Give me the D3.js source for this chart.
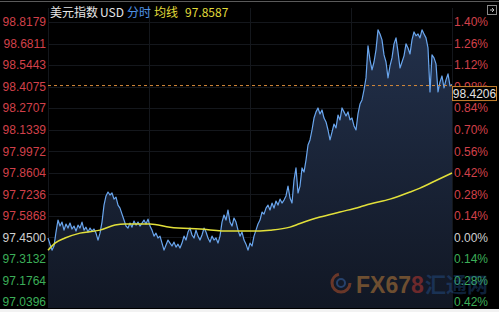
<!DOCTYPE html>
<html>
<head>
<meta charset="utf-8">
<script src="https://cdn.jsdelivr.net/npm/d3@7"></script>
<style>
  html, body { margin: 0; padding: 0; background: #000; }
  svg { display: block; }
</style>
</head>
<body>
<div id="chart"></div>
<script>
// price ticks (left) and percent ticks (right)
const priceTicks = [98.8179, 98.6811, 98.5443, 98.4075, 98.2707, 98.1339, 97.9972,
                    97.8604, 97.7236, 97.5868, 97.4500, 97.3132, 97.1764, 97.0396];
const pctTicks = ["1.40%", "1.26%", "1.12%", "0.98%", "0.84%", "0.70%", "0.56%",
                  "0.42%", "0.28%", "0.14%", "0.00%", "0.14%", "0.28%", "0.42%"];
const baseValue = 97.45;
const lastPrice = 98.4206;
const avgLast = 97.8587;

// minute prices (sampled), one per step
const prices = [
  97.446, 97.407, 97.369, 97.395, 97.484, 97.560, 97.522, 97.547, 97.496, 97.535,
  97.509, 97.541, 97.503, 97.522, 97.490, 97.528, 97.509, 97.547, 97.496, 97.515,
  97.484, 97.509, 97.490, 97.503, 97.477, 97.433, 97.477, 97.547, 97.655, 97.713,
  97.738, 97.719, 97.732, 97.693, 97.706, 97.655, 97.636, 97.598, 97.560, 97.522,
  97.509, 97.541, 97.515, 97.554, 97.528, 97.547, 97.522, 97.541, 97.560, 97.535,
  97.566, 97.522, 97.496, 97.458, 97.477, 97.446, 97.458, 97.414, 97.369, 97.401,
  97.433, 97.414, 97.395, 97.420, 97.388, 97.407, 97.382, 97.414, 97.458, 97.433,
  97.484, 97.509, 97.465, 97.446, 97.496, 97.458, 97.433, 97.465, 97.509, 97.484,
  97.446, 97.420, 97.458, 97.433, 97.446, 97.414, 97.458, 97.547, 97.592, 97.560,
  97.624, 97.547, 97.522, 97.573, 97.547, 97.496, 97.458, 97.484, 97.433, 97.407,
  97.369, 97.414, 97.395, 97.458, 97.496, 97.535, 97.560, 97.611, 97.598, 97.636,
  97.655, 97.624, 97.668, 97.636, 97.681, 97.655, 97.693, 97.668, 97.687, 97.713,
  97.776, 97.700, 97.668, 97.814, 97.891, 97.732, 97.776, 97.891, 97.865, 97.941,
  98.037, 98.069, 98.132, 98.208, 98.247, 98.272, 98.234, 98.259, 98.208, 98.183,
  98.132, 98.069, 98.119, 98.170, 98.145, 98.227, 98.196, 98.272, 98.247, 98.221,
  98.247, 98.196, 98.208, 98.158, 98.132, 98.234, 98.297, 98.323, 98.386, 98.463,
  98.666, 98.577, 98.514, 98.564, 98.641, 98.768, 98.742, 98.704, 98.609, 98.564,
  98.463, 98.539, 98.590, 98.679, 98.717, 98.628, 98.526, 98.564, 98.603, 98.679,
  98.653, 98.615, 98.704, 98.755, 98.730, 98.742, 98.717, 98.768, 98.742, 98.717,
  98.653, 98.374, 98.609, 98.590, 98.552, 98.374, 98.437, 98.475, 98.399, 98.450,
  98.488, 98.412, 98.421
];

// average line: step index and value
const avgSteps  = [0, 3.5, 8.5, 16, 26, 33.5, 38.5, 51, 61, 76, 91, 101, 111, 121, 126,
                   136, 146, 156, 161, 171, 181, 186, 193.5, 202];
const avgValues = [97.369, 97.414, 97.446, 97.477, 97.496, 97.528, 97.535, 97.535, 97.515,
                   97.503, 97.490, 97.490, 97.496, 97.515, 97.538, 97.579, 97.611, 97.643,
                   97.662, 97.693, 97.738, 97.763, 97.808, avgLast];

const W = 499, H = 312;
const plot = { left: 48, right: 452, top: 8, bottom: 308 };

const svg = d3.select("#chart").append("svg")
    .attr("width", W).attr("height", H)
    .style("font-family", "Arial, 'Liberation Sans', sans-serif");

svg.append("rect").attr("width", W).attr("height", H).attr("fill", "#000");
svg.append("rect").attr("x", 0).attr("y", 309).attr("width", W).attr("height", 3).attr("fill", "#f2f2f2");
svg.append("line").attr("x1", 0).attr("x2", W).attr("y1", 1.5).attr("y2", 1.5)
    .attr("stroke", "#5a5a5a").attr("stroke-width", 1);

const x = d3.scaleLinear().domain([0, prices.length - 1]).range([plot.left, plot.right]);
const y = d3.scaleLinear().domain([97.0396, 98.8179]).range([302, 22]);

// faint grid
const grid = svg.append("g").attr("stroke", "#14171c").attr("stroke-width", 1);
grid.selectAll("line.h").data(priceTicks).join("line")
    .attr("x1", plot.left).attr("x2", plot.right)
    .attr("y1", d => Math.round(y(d)) + 0.5).attr("y2", d => Math.round(y(d)) + 0.5);
grid.selectAll("line.v").data([0, 0.25, 0.5, 0.75, 1]).join("line")
    .attr("x1", d => Math.round(plot.left + d * (plot.right - plot.left)) + 0.5)
    .attr("x2", d => Math.round(plot.left + d * (plot.right - plot.left)) + 0.5)
    .attr("y1", plot.top).attr("y2", plot.bottom);

// area fill under price
const defs = svg.append("defs");
const grad = defs.append("linearGradient").attr("id", "fillGrad")
    .attr("x1", 0).attr("y1", 0).attr("x2", 0).attr("y2", 1);
grad.append("stop").attr("offset", "0%").attr("stop-color", "#22304a");
grad.append("stop").attr("offset", "100%").attr("stop-color", "#111724");

const area = d3.area()
    .x((d, i) => x(i))
    .y0(plot.bottom)
    .y1(d => y(d));
svg.append("path").datum(prices).attr("d", area)
    .attr("fill", "url(#fillGrad)");

const line = d3.line().x((d, i) => x(i)).y(d => y(d));
svg.append("path").datum(prices).attr("d", line)
    .attr("fill", "none").attr("stroke", "#6aa6ee").attr("stroke-width", 1.2)
    .attr("stroke-linejoin", "round");

// average line
const avgLine = d3.line().curve(d3.curveMonotoneX)
    .x(d => x(d[0])).y(d => y(d[1]));
svg.append("path").datum(avgSteps.map((s, i) => [s, avgValues[i]])).attr("d", avgLine)
    .attr("fill", "none").attr("stroke", "#e2e03a").attr("stroke-width", 1.5);

// last price dashed line
svg.append("line")
    .attr("x1", plot.left).attr("x2", plot.right)
    .attr("y1", y(lastPrice) + 1).attr("y2", y(lastPrice) + 1)
    .attr("stroke", "#d4893a").attr("stroke-width", 1).attr("stroke-dasharray", "3,3");

// left labels
const colorFor = v => v > baseValue + 1e-6 ? "#d2404a" : (v < baseValue - 1e-6 ? "#3cae58" : "#cfcfcf");
svg.append("g").selectAll("text").data(priceTicks).join("text")
    .attr("x", 46).attr("y", d => y(d))
    .attr("dy", "0.36em").attr("text-anchor", "end")
    .attr("font-size", 12).attr("fill", colorFor)
    .text(d => d.toFixed(4));

// right labels
svg.append("g").selectAll("text").data(pctTicks).join("text")
    .attr("x", 454).attr("y", (d, i) => y(priceTicks[i]))
    .attr("dy", "0.36em").attr("font-size", 12)
    .attr("fill", (d, i) => colorFor(priceTicks[i]))
    .text(d => d);

// last price box
const boxY = y(lastPrice) + 2;
svg.append("rect").attr("x", 452.5).attr("y", boxY).attr("width", 44).attr("height", 14)
    .attr("fill", "#000").attr("stroke", "#c9842f").attr("stroke-width", 1);
svg.append("text").attr("x", 474.5).attr("y", boxY + 7).attr("dy", "0.36em")
    .attr("text-anchor", "middle").attr("font-size", 12).attr("fill", "#e2e2e2")
    .text(lastPrice.toFixed(4));

// title
const title = svg.append("g").attr("font-size", 12)
    .attr("font-family", "'Noto Sans CJK SC', Arial, sans-serif");
const titleParts = [
  { text: "美元指数", x: 50, fill: "#e6e6e6" },
  { text: "USD", x: 100, fill: "#e6e6e6" },
  { text: "分时", x: 127, fill: "#4f93e6" },
  { text: "均线", x: 154, fill: "#e2dc3a" },
  { text: avgLast.toFixed(4), x: 185, fill: "#e2dc3a" }
];
title.selectAll("text").data(titleParts).join("text")
    .attr("x", d => d.x).attr("y", 13).attr("dy", "0.36em")
    .attr("fill", d => d.fill).text(d => d.text);

// top-right icon
svg.append("rect").attr("x", 487.5).attr("y", 5.5).attr("width", 9).attr("height", 9)
    .attr("fill", "none").attr("stroke", "#8a8a8a");
svg.append("path").attr("d", "M490,10 L494,10 M492,8 L494,10 L492,12")
    .attr("stroke", "#bbb").attr("fill", "none");

// watermark
const wm = svg.append("g").attr("opacity", 0.5);
wm.append("circle").attr("cx", 341).attr("cy", 283).attr("r", 9)
    .attr("fill", "none").attr("stroke", "#c0552a").attr("stroke-width", 3)
    .attr("stroke-dasharray", "40,17");
wm.append("circle").attr("cx", 341).attr("cy", 283).attr("r", 4)
    .attr("fill", "none").attr("stroke", "#3a6ab0").attr("stroke-width", 2);
const wmText = wm.append("text").attr("x", 356).attr("y", 293)
    .attr("font-size", 23).attr("font-weight", "bold")
    .attr("font-family", "'Liberation Sans Narrow', Arial, sans-serif");
wmText.append("tspan").attr("fill", "#c8843a").text("FX67");
wmText.append("tspan").attr("fill", "#c83a30").text("8");
wm.append("text").attr("x", 425).attr("y", 292).attr("font-size", 21)
    .attr("font-family", "'Noto Sans CJK SC', sans-serif").attr("font-weight", "bold")
    .attr("fill", "#2f6fc0").attr("opacity", 0.6).text("汇通网");
</script>
</body>
</html>
